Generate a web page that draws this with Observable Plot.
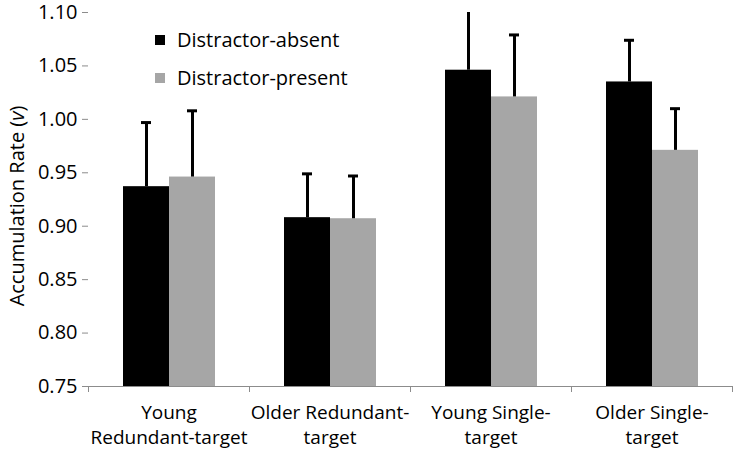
<!DOCTYPE html>
<html><head><meta charset="utf-8">
<script src="https://cdn.jsdelivr.net/npm/d3@7"></script>
<script src="https://cdn.jsdelivr.net/npm/@observablehq/plot@0.6"></script>
<style>
body{margin:0;background:#fff;font-family:"Open Sans",sans-serif;}
#wrap{position:relative;width:735px;height:455px;}
.leg{position:absolute;left:155px;font-size:20px;line-height:24px;display:flex;align-items:center;color:#000;}
.leg span.sw{display:inline-block;width:10px;height:10px;margin-right:12px;}
</style></head><body><div id="wrap"></div>
<script>
const categories = ["Young\nRedundant-target", "Older Redundant-\ntarget", "Young Single-\ntarget", "Older Single-\ntarget"];
const series = ["Distractor-absent", "Distractor-present"];
const seriesColors = ["#000000", "#a6a6a6"];
const absentMean = [0.937, 0.908, 1.046, 1.035];
const absentErr = [0.060, 0.041, 0.065, 0.039];
const presentMean = [0.946, 0.907, 1.021, 0.971];
const presentErr = [0.062, 0.040, 0.058, 0.039];
const yTicks = [0.75, 0.80, 0.85, 0.90, 0.95, 1.00, 1.05, 1.10];
const yDomain = [0.75, 1.10];

const data = categories.flatMap((c, i) => [
  {cat: c, series: series[0], mean: absentMean[i], err: absentErr[i]},
  {cat: c, series: series[1], mean: presentMean[i], err: presentErr[i]}
]);

const axisGray = "#8c8c8c";
const plot = Plot.plot({
  width: 735, height: 455,
  marginLeft: 88, marginRight: 3, marginTop: 12, marginBottom: 69,
  style: {fontFamily: "'Open Sans', sans-serif", fontSize: "16px", color: "#000", background: "#fff"},
  fx: {domain: categories, padding: 0, label: null},
  x: {domain: series, paddingInner: 0, paddingOuter: 0.747, axis: null},
  y: {domain: yDomain, label: null},
  color: {domain: series, range: seriesColors},
  marks: [
    Plot.barY(data, {fx: "cat", x: "series", y1: () => yDomain[0], y2: "mean", fill: "series"}),
    Plot.ruleX(data, {fx: "cat", x: "series", y1: "mean", y2: d => d.mean + d.err, stroke: "#000", strokeWidth: 3, clip: true}),
    Plot.tickY(data, {fx: "cat", x: "series", y: d => d.mean + d.err, stroke: "#000", strokeWidth: 3, insetLeft: 18, insetRight: 18, clip: true}),
    Plot.ruleY([yDomain[0]], {stroke: axisGray, strokeWidth: 1}),
    Plot.axisY({ticks: yTicks, tickFormat: d3.format(".2f"), tickSize: 6, tickPadding: 5, stroke: axisGray, fill: "#000", line: true, label: null, fontSize: 20}),
    Plot.axisFx({anchor: "bottom", tickSize: 0, tickPadding: 15, lineHeight: 1.32, fill: "#000", label: null, fontSize: 19})
  ]
});

const wrap = document.getElementById("wrap");
wrap.appendChild(plot);

// boundary ticks under the category axis, from the fx scale
const fx = plot.scale("fx");
const ys = plot.scale("y");
const y0 = ys.apply(yDomain[0]);
const svg = d3.select(plot);
const bounds = [];
categories.forEach((c, i) => { const l = fx.apply(c); if (i === 0) bounds.push(l); bounds.push(l + fx.bandwidth); });
svg.append("g").selectAll("line").data(bounds).join("line")
  .attr("x1", d => d).attr("x2", d => d).attr("y1", y0).attr("y2", y0 + 6)
  .attr("stroke", axisGray).attr("shape-rendering", "crispEdges");

// y-axis title
const yc = (ys.apply(yDomain[0]) + ys.apply(yDomain[1])) / 2;
const t = svg.append("text")
  .attr("transform", `translate(24,${yc + 7}) rotate(-90)`)
  .attr("text-anchor", "middle")
  .attr("font-family", "'Open Sans', sans-serif").attr("font-size", 20).attr("fill", "#000");
t.append("tspan").text("Accumulation Rate (");
t.append("tspan").attr("font-style", "italic").text("v");
t.append("tspan").text(")");

// legend
series.forEach((s, i) => {
  const d = document.createElement("div");
  d.className = "leg";
  d.style.top = (28 + i * 38) + "px";
  d.innerHTML = `<span class="sw" style="background:${seriesColors[i]}"></span>${s}`;
  wrap.appendChild(d);
});
</script></body></html>
